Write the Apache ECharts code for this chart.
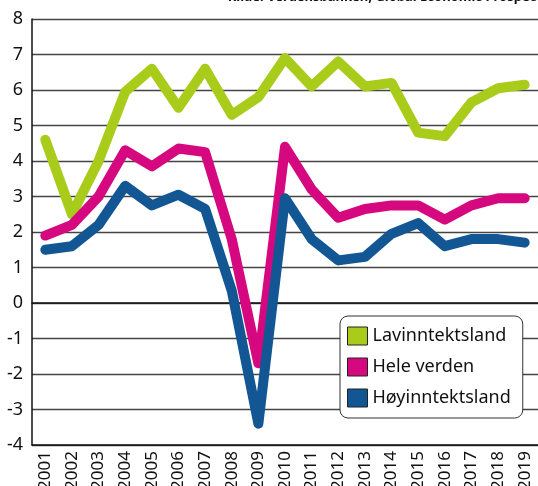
<!DOCTYPE html>
<html>
<head>
<meta charset="utf-8">
<script src="https://cdn.jsdelivr.net/npm/echarts@6/dist/echarts.min.js"></script>
<style>
  html, body { margin: 0; padding: 0; background: #fff; }
  #chart { width: 538px; height: 486px; }
</style>
</head>
<body>
<div id="chart"></div>
<script>
// år
var years = ['2001','2002','2003','2004','2005','2006','2007','2008','2009','2010',
             '2011','2012','2013','2014','2015','2016','2017','2018','2019'];
// BNP-vekst, prosent
var lavinntekt = [4.6, 2.5, 4.0, 5.95, 6.6, 5.5, 6.6, 5.3, 5.8, 6.9, 6.1, 6.8, 6.1, 6.2, 4.8, 4.7, 5.65, 6.05, 6.15];
var heleVerden = [1.9, 2.2, 3.0, 4.3, 3.85, 4.35, 4.25, 1.8, -1.7, 4.4, 3.2, 2.4, 2.65, 2.75, 2.75, 2.35, 2.75, 2.95, 2.95];
var hoyinntekt = [1.5, 1.6, 2.2, 3.3, 2.75, 3.05, 2.65, 0.35, -3.4, 2.95, 1.8, 1.2, 1.3, 1.95, 2.25, 1.6, 1.8, 1.8, 1.7];
var yTicks = [-4, 8, 1]; // min, max, steg

var fontName = 'Noto Sans';
var myChart = echarts.init(document.getElementById('chart'));

function lineSerie(name, data, color) {
  return {
    name: name,
    type: 'line',
    xAxisIndex: 1,
    data: data,
    symbol: 'none',
    itemStyle: { color: color },
    lineStyle: { color: color, width: 10, cap: 'round', join: 'round' },
    animation: false
  };
}

var option = {
  animation: false,
  grid: { left: 32, top: 19, right: 0, bottom: 41, containLabel: false, outerBoundsMode: 'none' },
  graphic: [{
    type: 'text',
    right: -4,
    top: -9,
    style: { text: 'Kilde: Verdensbanken, Global Economic Prospect', font: 'bold 13px ' + fontName, fill: '#111' }
  }],
  legend: {
    left: 340,
    top: 316,
    orient: 'vertical',
    icon: 'rect',
    itemWidth: 20,
    itemHeight: 18,
    itemGap: 9,
    padding: [9, 12, 9, 7],
    backgroundColor: '#fff',
    borderColor: '#333',
    borderWidth: 1,
    borderRadius: 8,
    itemStyle: { borderColor: '#222', borderWidth: 1 },
    textStyle: { fontFamily: fontName, fontSize: 18, color: '#111', lineHeight: 22 },
    data: ['Lavinntektsland', 'Hele verden', 'Høyinntektsland']
  },
  xAxis: [
    {
      // nullinja med hakk
      type: 'category',
      data: years,
      boundaryGap: true,
      axisLine: { onZero: true, lineStyle: { color: '#111', width: 1.5 } },
      axisTick: { inside: true, length: 10, interval: 0, lineStyle: { color: '#111', width: 1.5 } },
      axisLabel: { show: false }
    },
    {
      type: 'category',
      data: years,
      position: 'bottom',
      boundaryGap: true,
      axisLine: { onZero: false, lineStyle: { color: '#111', width: 1.5 } },
      axisTick: { inside: true, length: 10, interval: 0, lineStyle: { color: '#111', width: 1.5 } },
      axisLabel: { rotate: 90, interval: 0, margin: 6, fontFamily: fontName, fontSize: 17, color: '#111' }
    }
  ],
  yAxis: {
    type: 'value',
    min: yTicks[0],
    max: yTicks[1],
    interval: yTicks[2],
    axisLine: { show: true, lineStyle: { color: '#111', width: 1.5 } },
    axisTick: { show: false },
    axisLabel: { margin: 9, fontFamily: fontName, fontSize: 18, color: '#111' },
    splitLine: { show: true, lineStyle: { color: '#444', width: 1.3 } }
  },
  series: [
    lineSerie('Lavinntektsland', lavinntekt, '#a9cb1a'),
    lineSerie('Hele verden', heleVerden, '#d6087f'),
    lineSerie('Høyinntektsland', hoyinntekt, '#135694')
  ]
};

myChart.setOption(option);
</script>
</body>
</html>
